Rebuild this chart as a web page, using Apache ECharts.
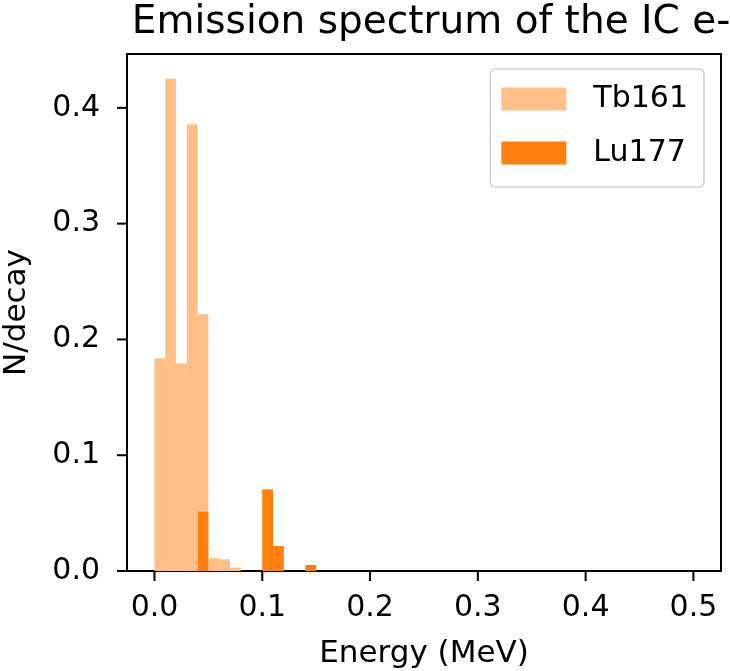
<!DOCTYPE html>
<html>
<head>
<meta charset="utf-8">
<script src="https://cdn.jsdelivr.net/npm/echarts@6/dist/echarts.min.js"></script>
<style>
html,body{margin:0;padding:0;background:#fff;}
#chart{width:730px;height:671px;}
</style>
</head>
<body>
<div id="chart"></div>
<script>
// ---- data ----
const titleText = 'Emission spectrum of the IC e-';
const xAxisName = 'Energy (MeV)';
const yAxisName = 'N/decay';
const binWidth = 0.01;
const tb161BinStarts = [0.00, 0.01, 0.02, 0.03, 0.04, 0.05, 0.06, 0.07];
const tb161Values    = [0.1835, 0.4252, 0.1792, 0.3857, 0.2217, 0.011, 0.010, 0.003];
const lu177BinStarts = [0.04, 0.10, 0.11, 0.14];
const lu177Values    = [0.0512, 0.0705, 0.0216, 0.0052];
const xTicks = [0.0, 0.1, 0.2, 0.3, 0.4, 0.5];
const yTicks = [0.0, 0.1, 0.2, 0.3, 0.4];
const seriesNames = ['Tb161', 'Lu177'];
const seriesColors = ['#ffbf86', '#ff7f0e'];

const FONT = 'DejaVu Sans';
const X_MIN = -0.0255, X_MAX = 0.5256, Y_MIN = 0, Y_MAX = 0.4465;

function histData(starts, vals) {
  return starts.map((s, i) => [s, s + binWidth, vals[i]]);
}
function renderBar(params, api) {
  const p0 = api.coord([api.value(0), api.value(2)]);
  const p1 = api.coord([api.value(1), 0]);
  return {
    type: 'rect',
    shape: { x: p0[0], y: p0[1], width: p1[0] - p0[0], height: p1[1] - p0[1] },
    style: { fill: api.visual('color') }
  };
}
// tick marks drawn in thin strip grids through the same scales
function renderXTick(params, api) {
  const a = api.coord([api.value(0), 0]);
  const b = api.coord([api.value(0), 1]);
  return { type: 'line', shape: { x1: a[0], y1: a[1], x2: b[0], y2: b[1] },
    style: { stroke: '#000', lineWidth: 2 } };
}
function renderYTick(params, api) {
  const a = api.coord([0, api.value(1)]);
  const b = api.coord([1, api.value(1)]);
  return { type: 'line', shape: { x1: a[0], y1: a[1], x2: b[0], y2: b[1] },
    style: { stroke: '#000', lineWidth: 2 } };
}

const chart = echarts.init(document.getElementById('chart'), null, { renderer: 'canvas' });
chart.setOption({
  animation: false,
  backgroundColor: '#ffffff',
  title: {
    text: titleText,
    left: 426,
    textAlign: 'center',
    top: -2,
    textStyle: { fontFamily: FONT, fontSize: 39, fontWeight: 'normal', color: '#000' }
  },
  grid: [
    { left: 127, right: 9, top: 54, bottom: 100, outerBoundsMode: 'none', containLabel: false,
      show: true, borderColor: '#000', borderWidth: 2, backgroundColor: 'transparent' },
    { left: 127, right: 9, top: 571, height: 10, outerBoundsMode: 'none', containLabel: false, show: false },
    { left: 117, width: 10, top: 54, bottom: 100, outerBoundsMode: 'none', containLabel: false, show: false }
  ],
  legend: {
    right: 26, top: 69,
    orient: 'vertical',
    data: seriesNames,
    icon: 'rect',
    itemWidth: 65, itemHeight: 23, itemGap: 24,
    padding: [15, 16, 19, 11],
    borderColor: '#d0d0d0', borderWidth: 1.5, borderRadius: 5,
    backgroundColor: '#fff',
    textStyle: { fontFamily: FONT, fontSize: 30, color: '#000', lineHeight: 23, padding: [0, 0, 0, 22] }
  },
  xAxis: [
    {
      gridIndex: 0, type: 'value', min: X_MIN, max: X_MAX, position: 'bottom',
      name: xAxisName, nameLocation: 'middle', nameGap: 67,
      nameTextStyle: { fontFamily: FONT, fontSize: 31, color: '#000' },
      axisLine: { show: true, onZero: false, lineStyle: { color: '#000', width: 2 } },
      splitLine: { show: false },
      axisTick: { show: false },
      axisLabel: { fontFamily: FONT, fontSize: 30, color: '#000', margin: 22, customValues: xTicks,
        formatter: v => v.toFixed(1) }
    },
    { gridIndex: 1, type: 'value', min: X_MIN, max: X_MAX, show: false },
    { gridIndex: 2, type: 'value', min: 0, max: 1, show: false }
  ],
  yAxis: [
    {
      gridIndex: 0, type: 'value', min: Y_MIN, max: Y_MAX, position: 'left',
      name: yAxisName, nameLocation: 'middle', nameGap: 95, nameRotate: 90,
      nameTextStyle: { fontFamily: FONT, fontSize: 31, color: '#000' },
      axisLine: { show: true, onZero: false, lineStyle: { color: '#000', width: 2 } },
      splitLine: { show: false },
      axisTick: { show: false },
      axisLabel: { fontFamily: FONT, fontSize: 30, color: '#000', margin: 27, customValues: yTicks,
        formatter: v => v.toFixed(1) }
    },
    { gridIndex: 1, type: 'value', min: 0, max: 1, show: false },
    { gridIndex: 2, type: 'value', min: Y_MIN, max: Y_MAX, show: false }
  ],
  series: [
    {
      name: seriesNames[0], type: 'custom', renderItem: renderBar,
      xAxisIndex: 0, yAxisIndex: 0,
      itemStyle: { color: seriesColors[0] },
      encode: { x: [0, 1], y: 2 },
      data: histData(tb161BinStarts, tb161Values)
    },
    {
      name: seriesNames[1], type: 'custom', renderItem: renderBar,
      xAxisIndex: 0, yAxisIndex: 0,
      itemStyle: { color: seriesColors[1] },
      encode: { x: [0, 1], y: 2 },
      data: histData(lu177BinStarts, lu177Values)
    },
    {
      name: 'xTickMarks', type: 'custom', renderItem: renderXTick, silent: true, clip: false,
      xAxisIndex: 1, yAxisIndex: 1,
      encode: { x: 0, y: 1 },
      data: xTicks.map(v => [v, 0])
    },
    {
      name: 'yTickMarks', type: 'custom', renderItem: renderYTick, silent: true, clip: false,
      xAxisIndex: 2, yAxisIndex: 2,
      encode: { x: 0, y: 1 },
      data: yTicks.map(v => [0, v])
    }
  ]
});
</script>
</body>
</html>
